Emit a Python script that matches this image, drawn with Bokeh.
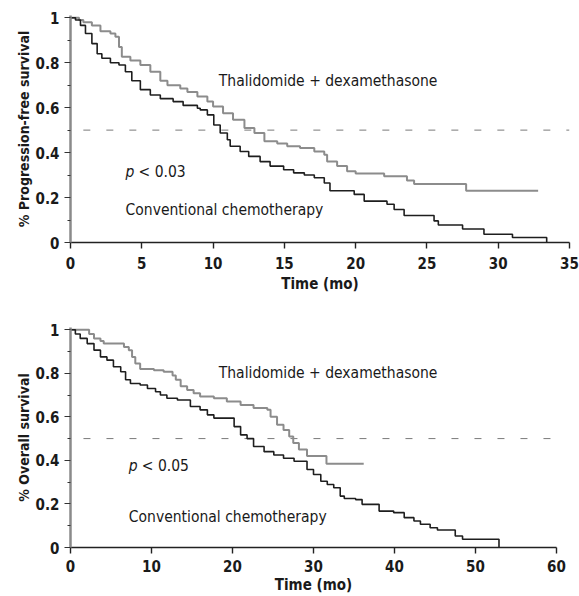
from bokeh.plotting import figure
from bokeh.models import Range1d, FixedTicker, CustomJSTickFormatter
from bokeh.layouts import column
from bokeh.core.properties import value
from bokeh.embed import file_html
from bokeh.resources import INLINE

# ---------------- data ----------------
# Progression-free survival
pfs_thal_t = [0, 0.6, 0.9, 1.5, 2.1, 2.8, 3.15, 3.4, 3.6, 4.2, 4.9, 5.6, 6.3, 6.8, 7.7,
              8.2, 8.9, 9.6, 10.0, 10.7, 11.4, 12.2, 12.9, 13.6, 14.5, 15.2, 16.1, 17.1,
              17.8, 18.0, 18.7, 19.4, 20.0, 22.0, 23.6, 24.1, 27.75, 32.8]
pfs_thal_s = [1.0, 0.99, 0.98, 0.965, 0.94, 0.93, 0.915, 0.87, 0.826, 0.81, 0.79, 0.76, 0.72,
              0.70, 0.685, 0.67, 0.65, 0.627, 0.605, 0.575, 0.546, 0.51, 0.487, 0.45, 0.44,
              0.428, 0.42, 0.405, 0.39, 0.36, 0.34, 0.317, 0.307, 0.295, 0.276, 0.26, 0.23, 0.23]
pfs_conv_t = [0, 0.35, 0.7, 1.05, 1.5, 1.87, 2.2, 2.8, 3.4, 3.85, 4.3, 4.9, 5.6, 6.3, 7.2,
              7.9, 8.9, 9.1, 9.6, 10.05, 10.5, 11.0, 11.2, 11.9, 12.5, 13.3, 14.0, 14.95,
              15.65, 16.4, 17.1, 17.8, 18.2, 19.9, 20.6, 22.2, 22.7, 23.4, 25.5, 25.8, 27.5,
              29.0, 31.0, 33.4]
pfs_conv_s = [1.0, 0.99, 0.966, 0.93, 0.885, 0.84, 0.82, 0.80, 0.79, 0.76, 0.72, 0.68, 0.656,
              0.64, 0.627, 0.61, 0.597, 0.59, 0.568, 0.523, 0.487, 0.457, 0.428, 0.405, 0.383,
              0.36, 0.34, 0.324, 0.31, 0.30, 0.288, 0.265, 0.23, 0.214, 0.184, 0.17, 0.147,
              0.12, 0.096, 0.078, 0.06, 0.037, 0.022, 0.0]

# Overall survival
os_thal_t = [0, 2.3, 2.9, 3.7, 4.1, 6.6, 7.2, 7.6, 8.0, 8.6, 10.3, 11.5, 12.6, 13.0, 13.6,
             14.4, 15.2, 16.0, 17.7, 19.3, 21.0, 22.6, 24.3, 24.7, 25.5, 26.3, 27.0, 27.5,
             28.2, 29.2, 31.6, 36.2]
os_thal_s = [1.0, 0.98, 0.96, 0.948, 0.936, 0.92, 0.906, 0.875, 0.845, 0.82, 0.814, 0.807,
             0.79, 0.77, 0.74, 0.723, 0.708, 0.693, 0.685, 0.67, 0.654, 0.64, 0.632, 0.60,
             0.563, 0.54, 0.51, 0.48, 0.45, 0.42, 0.384, 0.384]
os_conv_t = [0, 0.6, 1.2, 2.06, 2.9, 3.7, 4.5, 5.3, 6.2, 6.8, 7.4, 8.6, 9.5, 10.5, 11.1, 11.9,
             13.2, 14.8, 16.0, 16.9, 17.7, 20.2, 21.0, 21.8, 22.6, 23.9, 25.1, 26.3, 27.6,
             29.2, 30.0, 30.9, 31.7, 32.5, 33.3, 33.8, 35.2, 36.0, 38.1, 39.9, 41.2, 42.4,
             43.2, 44.4, 45.3, 47.5, 48.4, 52.9]
os_conv_s = [1.0, 0.98, 0.96, 0.936, 0.906, 0.875, 0.86, 0.83, 0.807, 0.77, 0.753, 0.746,
             0.73, 0.715, 0.70, 0.685, 0.677, 0.647, 0.632, 0.609, 0.594, 0.555, 0.517, 0.50,
             0.464, 0.44, 0.425, 0.41, 0.396, 0.358, 0.335, 0.304, 0.289, 0.274, 0.236, 0.225,
             0.22, 0.198, 0.167, 0.16, 0.137, 0.122, 0.107, 0.091, 0.08, 0.053, 0.038, 0.0]

y_ticks = [0, 0.2, 0.4, 0.6, 0.8, 1.0]
y_minor = [0.1, 0.3, 0.5, 0.7, 0.9]
pfs_x_ticks = [0, 5, 10, 15, 20, 25, 30, 35]
os_x_ticks = [0, 10, 20, 30, 40, 50, 60]
median_level = 0.5

labels_thal = "Thalidomide + dexamethasone"
labels_conv = "Conventional chemotherapy"
pfs_p = "< 0.03"
os_p = "< 0.05"

FONT = "DejaVu Sans Condensed"
GRAY = "#8c8c8c"
BLACK = "#1e1e1e"


def panel(width, height, mb, x_max, x_ticks, y_title,
          thal_t, thal_s, conv_t, conv_s, dash_start,
          thal_xy, p_xy, conv_xy, p_text, lab_standoff, title_standoff):
    p = figure(width=width, height=height, output_backend="svg", toolbar_location=None,
               x_range=Range1d(0, x_max), y_range=Range1d(0, 1.01),
               min_border_left=mb[0], min_border_right=mb[1],
               min_border_top=mb[2], min_border_bottom=mb[3])
    p.outline_line_color = None
    p.grid.visible = False
    p.background_fill_color = "white"

    # median line
    p.line([dash_start, x_max], [median_level, median_level], line_color="#7a7a7a",
           line_width=1, line_dash="7 16")

    p.step(thal_t, thal_s, mode="after", line_color=GRAY, line_width=2)
    p.step(conv_t, conv_s, mode="after", line_color=BLACK, line_width=1.6)

    tf = value(FONT)
    common = dict(text_font=tf, text_font_size="15.5px", text_baseline="middle",
                  text_align="left", text_color="#1a1a1a")
    p.text([thal_xy[0]], [thal_xy[1]], text=[labels_thal], **common)
    p.text([conv_xy[0]], [conv_xy[1]], text=[labels_conv], **common)
    p.text([p_xy[0]], [p_xy[1]], text=["p"], text_font_style="italic", **common)
    p.text([p_xy[0]], [p_xy[1]], text=[p_text], x_offset=13, **common)

    xa = p.xaxis[0]
    xa.ticker = FixedTicker(ticks=x_ticks)
    xa.axis_label = "Time (mo)"
    xa.axis_line_color = "#222"
    xa.axis_line_width = 1.6
    xa.major_tick_line_color = "#222"
    xa.major_tick_line_width = 1.4
    xa.major_tick_out = 6
    xa.major_tick_in = 0
    xa.minor_tick_line_color = None
    xa.major_label_standoff = lab_standoff
    xa.axis_label_standoff = title_standoff

    ya = p.yaxis[0]
    ya.ticker = FixedTicker(ticks=y_ticks, minor_ticks=y_minor)
    ya.formatter = CustomJSTickFormatter(
        code="return (Math.abs(tick) < 1e-9 || Math.abs(tick - 1) < 1e-9) ? tick.toFixed(0) : tick.toFixed(1);")
    ya.axis_label = y_title
    ya.axis_line_color = "#8a8a8a"
    ya.axis_line_width = 2.5
    ya.major_tick_line_color = "#333"
    ya.major_tick_line_width = 1.2
    ya.major_tick_out = 6
    ya.major_tick_in = 0
    ya.minor_tick_line_color = "#333"
    ya.minor_tick_out = 3
    ya.minor_tick_in = 0
    ya.major_label_standoff = 5
    ya.axis_label_standoff = 1

    for ax in (xa, ya):
        ax.major_label_text_font = FONT
        ax.major_label_text_font_style = "bold"
        ax.major_label_text_font_size = "15px"
        ax.major_label_text_color = "#1a1a1a"
        ax.axis_label_text_font = FONT
        ax.axis_label_text_font_style = "bold"
        ax.axis_label_text_color = "#1a1a1a"
    xa.axis_label_text_font_size = "15px"
    ya.axis_label_text_font_size = "14px"
    return p


p1 = panel(579, 295, (70, 10, 15, 52), 35, pfs_x_ticks, "% Progression-free survival",
           pfs_thal_t, pfs_thal_s, pfs_conv_t, pfs_conv_s, 0.9,
           (10.4, 0.717), (3.86, 0.314), (3.86, 0.146), pfs_p, 8, 3)
p2 = panel(566, 301, (70, 10, 32, 48), 60, os_x_ticks, "% Overall survival",
           os_thal_t, os_thal_s, os_conv_t, os_conv_s, 1.6,
           (18.3, 0.80), (7.2, 0.374), (7.2, 0.14), os_p, 6, 1)

layout = column(p1, p2)
open("out.html", "w").write(file_html(layout, INLINE))
